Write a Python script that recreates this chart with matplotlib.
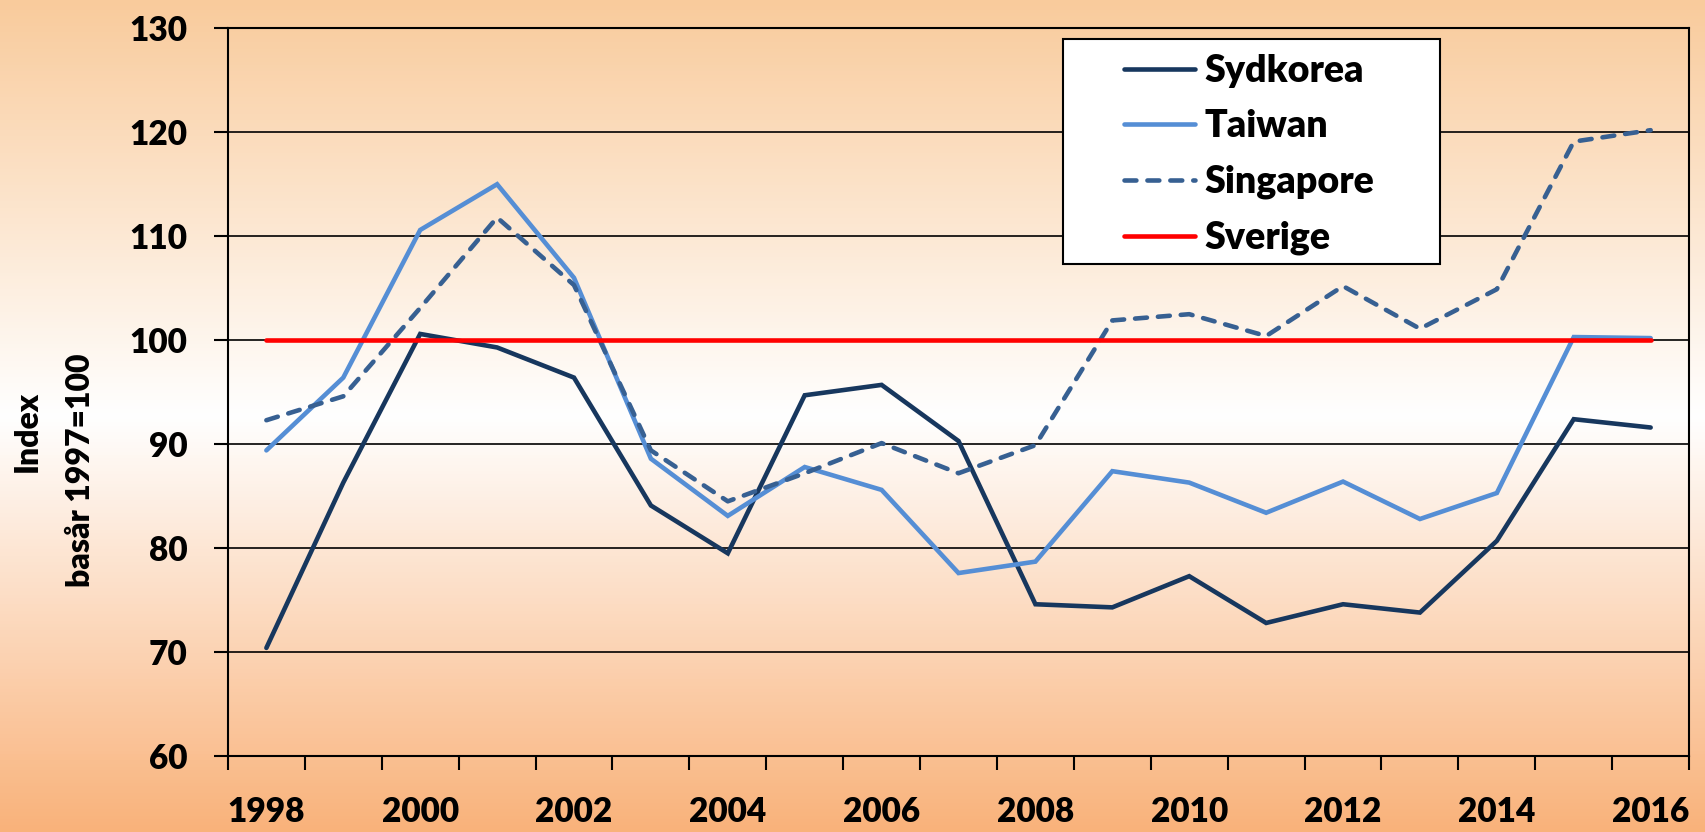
import numpy as np
import matplotlib.pyplot as plt
from matplotlib.patches import Rectangle
from matplotlib.colors import LinearSegmentedColormap

years = list(range(1998, 2017))
sydkorea = [70.4, 86.3, 100.6, 99.3, 96.4, 84.1, 79.5, 94.7, 95.7, 90.3,
            74.6, 74.3, 77.3, 72.8, 74.6, 73.8, 80.7, 92.4, 91.6]
taiwan = [89.4, 96.4, 110.6, 115.0, 106.0, 88.6, 83.1, 87.8, 85.6, 77.6,
          78.7, 87.4, 86.3, 83.4, 86.4, 82.8, 85.3, 100.3, 100.2]
singapore = [92.3, 94.6, 103.1, 111.8, 105.3, 89.4, 84.5, 87.2, 90.1, 87.2,
             89.9, 101.9, 102.5, 100.4, 105.2, 101.1, 104.9, 119.1, 120.2]
sverige = [100.0] * len(years)
y_ticks = [60, 70, 80, 90, 100, 110, 120, 130]

plt.rcParams['font.family'] = ['Lato', 'DejaVu Sans']
plt.rcParams['font.weight'] = 'heavy'

fig = plt.figure(figsize=(17.06, 8.32), dpi=100)

# background gradient: orange -> white -> orange
bg = fig.add_axes([0, 0, 1, 1], zorder=-2)
cmap = LinearSegmentedColormap.from_list(
    "bg", [(0.0, "#F9CB9C"), (0.5, "#FFFFFF"), (1.0, "#F9B27A")])
bg.imshow(np.linspace(0, 1, 256).reshape(-1, 1), cmap=cmap, aspect="auto",
          extent=[0, 1, 0, 1])
bg.axis("off")

ax = fig.add_axes([0.1336, 0.0913, 0.8565, 0.8747])
ax.set_facecolor("none")

x = np.arange(len(years))
lw = 3.3
ax.plot(x, sydkorea, color="#17375E", lw=lw, label="Sydkorea",
        solid_capstyle="round", solid_joinstyle="miter", zorder=3)
ax.plot(x, taiwan, color="#558ED5", lw=lw, label="Taiwan",
        solid_capstyle="round", solid_joinstyle="miter", zorder=3)
ax.plot(x, singapore, color="#376092", lw=lw, label="Singapore",
        dashes=(2.6, 2.4), dash_capstyle="round", zorder=3)
ax.plot(x, sverige, color="#FF0000", lw=lw, label="Sverige",
        solid_capstyle="round", zorder=3)

ax.set_xlim(-0.5, len(years) - 0.5)
ax.set_ylim(60, 130)
ax.set_yticks(y_ticks)
ax.set_yticklabels([str(v) for v in y_ticks])
ax.grid(axis="y", color="black", lw=1.2)
ax.set_axisbelow(True)

# category boundaries as tick marks, labels every other year at centres
ax.set_xticks(np.arange(-0.5, len(years)), labels=[])
ax.set_xticks(x[::2], labels=[str(y) for y in years[::2]], minor=True)
ax.tick_params(axis="x", which="major", direction="out", length=10, width=1.5)
ax.tick_params(axis="x", which="minor", length=0, pad=29, labelsize=24)
ax.tick_params(axis="y", direction="out", length=10, width=1.5, pad=19,
               labelsize=24)
for s in ax.spines.values():
    s.set_linewidth(1.5)

# y axis title, two lines
fig.text(0.0161, 0.482, "Index", rotation=90, ha="center", va="center",
         fontsize=23)
fig.text(0.0469, 0.435, "basår 1997=100", rotation=90, ha="center",
         va="center", fontsize=23)

# legend box
fig.patches.append(Rectangle((0.623, 0.6827), 0.221, 0.2704,
                             transform=fig.transFigure, facecolor="white",
                             edgecolor="black", lw=1.5, zorder=4))
leg = fig.legend(loc="upper left", bbox_to_anchor=(0.648, 0.958),
                 frameon=False, fontsize=27, handlelength=1.89,
                 handletextpad=0.26, labelspacing=0.575, borderpad=0)
leg.set_zorder(5)

fig.savefig("out.png", dpi=100)
